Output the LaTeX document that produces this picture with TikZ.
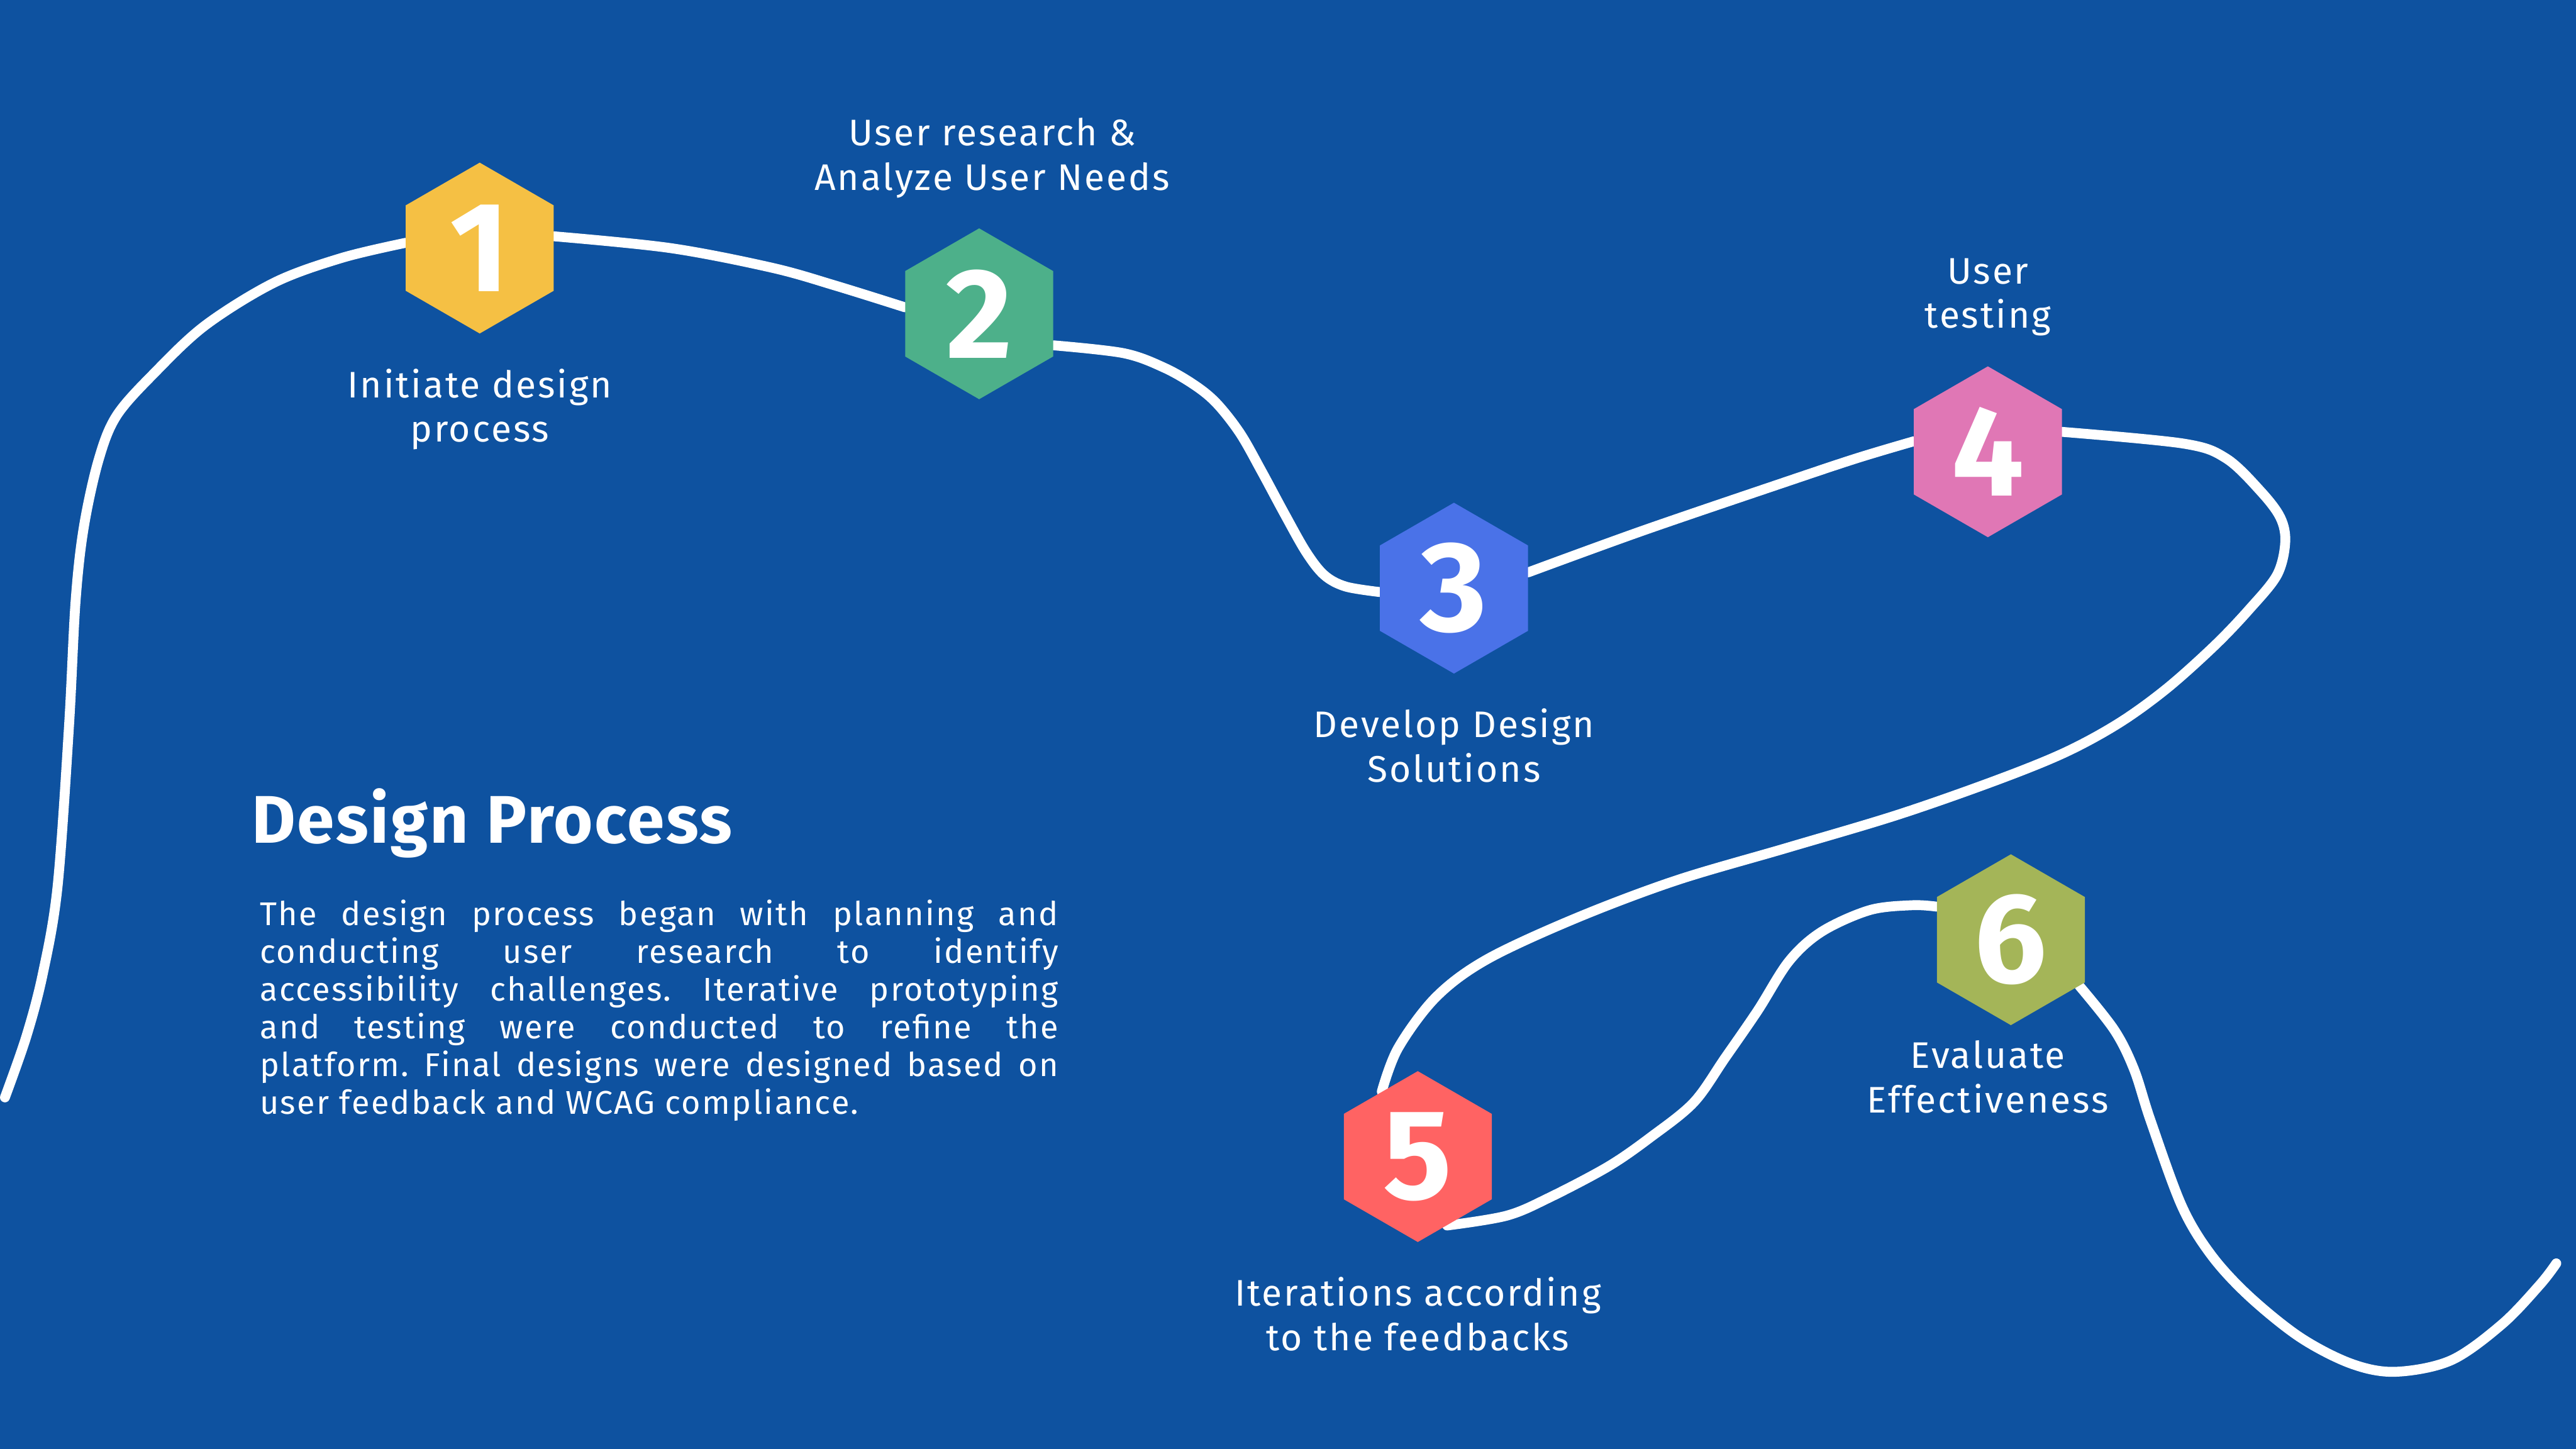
\documentclass[tikz,border=0pt]{standalone}
\usepackage{fontspec}
\setmainfont{Fira Sans}
\newfontfamily\labelfont[LetterSpace=5]{Fira Sans}
\newfontfamily\bodyfont[LetterSpace=4.5]{Fira Sans}
\newfontfamily\titlefont[LetterSpace=2.5]{Fira Sans}
\usetikzlibrary{shapes.geometric,positioning}
\definecolor{pagebg}{RGB}{14,82,160}
\definecolor{stepyellow}{RGB}{245,192,68}
\definecolor{stepgreen}{RGB}{77,176,138}
\definecolor{stepblue}{RGB}{74,114,232}
\definecolor{steppink}{RGB}{224,119,181}
\definecolor{stepred}{RGB}{255,99,99}
\definecolor{stepolive}{RGB}{164,181,88}
\pgfdeclarelayer{road}
\pgfsetlayers{road,main}

\begin{document}
\begin{tikzpicture}[
    x=1pt, y=1pt,
    hexbox/.style={regular polygon, regular polygon sides=6, shape border rotate=30, minimum size=104pt, inner sep=0pt, fill=#1, text=white, font=\fontsize{78}{78}\selectfont\bfseries},
    steplabel/.style={align=center, text=white, inner sep=0pt, font=\labelfont\fontsize{22.5}{27}\selectfont},
    road/.style={draw=white, line width=6pt, line cap=round, line join=round}
]
\useasboundingbox (0,0) rectangle (1568,-882);

% steps
\node[hexbox=stepyellow] (h1) at (292,-151) {1};
\node[hexbox=stepgreen] (h2) at (596,-191) {2};
\node[hexbox=stepblue] (h3) at (885,-358) {3};
\node[hexbox=steppink] (h4) at (1210,-275) {4};
\node[hexbox=stepred] (h5) at (863,-704) {5};
\node[hexbox=stepolive] (h6) at (1224,-572) {6};

\node[steplabel, below=21pt of h1] (t1) {Initiate design\\process};
\node[steplabel, above=18pt of h2, xshift=8pt] (t2) {User research \&\\Analyze User Needs};
\node[steplabel, below=21pt of h3] (t3) {Develop Design\\Solutions};
\node[steplabel, above=18pt of h4] (t4) {User\\testing};
\node[steplabel, below=21pt of h5] (t5) {Iterations according\\to the feedbacks};
\node[steplabel, below=9pt of h6, xshift=-14pt] (t6) {Evaluate\\Effectiveness};

% text block
\node[anchor=west, text=white, inner sep=0pt, font=\titlefont\fontsize{41}{48}\selectfont\bfseries] (title) at (153,-501) {Design Process};
\node[below=25pt of title.south west, anchor=north west, xshift=5pt, text width=486pt, align=justify, text=white, inner sep=0pt, font=\bodyfont\fontsize{20}{23}\selectfont\frenchspacing] (body) {The design process began with planning and\linebreak conducting user research to identify\linebreak accessibility challenges. Iterative prototyping\linebreak and testing were conducted to refine the\linebreak platform. Final designs were designed based on\linebreak user feedback and WCAG compliance.};

% path behind the steps
\begin{pgfonlayer}{road}
\fill[pagebg] (0,0) rectangle (1568,-882);
\draw[road] plot[smooth, tension=0.55] coordinates {(3,-668) (16,-631) (26,-593) (35,-540) (42,-442) (46,-366) (51,-321) (60,-280) (71,-253) (94,-227) (125,-198) (167,-172) (208,-157) (h1.176)};
\draw[road] plot[smooth, tension=0.55] coordinates {(h1.9) (408,-151) (470,-163) (509,-174) (h2.175)};
\draw[road] plot[smooth, tension=0.55] coordinates {(h2.-23) (684,-215) (709,-224) (728,-235) (741,-246) (755,-264) (768,-287) (782,-313) (795,-336) (806,-350) (819,-357) (h3.183)};
\draw[road] plot[smooth, tension=0.55] coordinates {(h3.12) (1000,-323) (1085,-294) (1130,-279) (h4.172)};
\draw[road] plot[smooth, tension=0.55] coordinates {(h4.15) (1329,-270) (1355,-279) (1376,-299) (1388,-315) (1391,-330) (1386,-350) (1369,-371) (1348,-393) (1319,-419) (1290,-440) (1257,-458) (1215,-475) (1155,-496) (1088,-516) (1020,-536) (959,-559) (905,-584) (874,-607) (851,-638) (h5.119)};
\draw[road] plot[smooth, tension=0.55] coordinates {(h5.-67) (917,-740) (943,-729) (979,-710) (1005,-692) (1031,-671) (1050,-644) (1070,-615) (1089,-585) (1109,-567) (1138,-554) (1164,-551) (h6.156)};
\draw[road] plot[smooth, tension=0.55] coordinates {(h6.-34) (1287,-627) (1299,-651) (1309,-682) (1328,-734) (1346,-764) (1369,-789) (1400,-814) (1431,-830) (1458,-835) (1492,-828) (1523,-806) (1546,-782) (1556,-769)};
\end{pgfonlayer}
\end{tikzpicture}
\end{document}
